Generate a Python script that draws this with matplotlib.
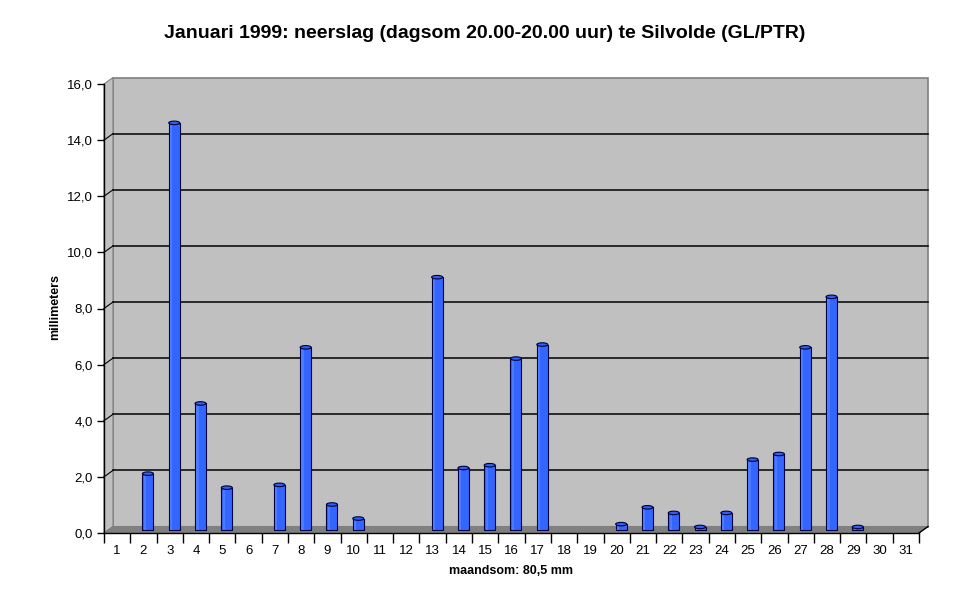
import matplotlib
matplotlib.use("Agg")
import matplotlib.pyplot as plt
from matplotlib.patches import Polygon, Rectangle, Ellipse

days = list(range(1, 32))
rain = [0, 2.0, 14.5, 4.5, 1.5, 0, 1.6, 6.5, 0.9, 0.4, 0, 0, 9.0, 2.2, 2.3, 6.1,
        6.6, 0, 0, 0.2, 0.8, 0.6, 0.1, 0.6, 2.5, 2.7, 6.5, 8.3, 0.1, 0, 0]
yticks = [0, 2, 4, 6, 8, 10, 12, 14, 16]
ytick_labels = ["0,0", "2,0", "4,0", "6,0", "8,0", "10,0", "12,0", "14,0", "16,0"]
title = "Januari 1999: neerslag (dagsom 20.00-20.00 uur) te Silvolde (GL/PTR)"
xlabel = "maandsom: 80,5 mm"
ylabel = "millimeters"

plt.rcParams['font.family'] = ['Liberation Sans', 'DejaVu Sans']

W, H = 970, 604
fig = plt.figure(figsize=(W / 100, H / 100), dpi=100)
x0, x1, yb, yt = 104, 919, 533, 84
ax = fig.add_axes([x0 / W, 1 - yb / H, (x1 - x0) / W, (yb - yt) / H])
xmin, xmax, ymin, ymax = 0.5, 31.5, 0, 16
ax.set_xlim(xmin, xmax)
ax.set_ylim(ymin, ymax)
for s in ax.spines.values():
    s.set_visible(False)
ax.patch.set_visible(False)

pxx = (x1 - x0) / (xmax - xmin)
pxy = (yb - yt) / (ymax - ymin)
dx = 9 / pxx
dy = 6.5 / pxy

# back wall
ax.add_patch(Rectangle((xmin + dx, dy), xmax - xmin, ymax, facecolor='#C0C0C0',
                       edgecolor='#808080', lw=1.2, clip_on=False, zorder=0))
# side wall
ax.add_patch(Polygon([(xmin, 0), (xmin + dx, dy), (xmin + dx, ymax + dy), (xmin, ymax)],
                     closed=True, facecolor='#C0C0C0', edgecolor='#808080', lw=0.8,
                     clip_on=False, zorder=0))
# floor
ax.add_patch(Polygon([(xmin, 0), (xmax, 0), (xmax + dx, dy), (xmin + dx, dy)],
                     closed=True, facecolor='#808080', edgecolor='#808080', lw=0.8,
                     clip_on=False, zorder=1))
# gridlines
for t in yticks[1:-1]:
    ax.plot([xmin + dx, xmax + dx], [t + dy, t + dy], color='black', lw=1.1,
            clip_on=False, zorder=1)
    ax.plot([xmin, xmin + dx], [t, t + dy], color='black', lw=0.8,
            clip_on=False, zorder=1)

# axes lines
ax.plot([xmin, xmin], [0, ymax], color='black', lw=1, clip_on=False, zorder=3)
ax.plot([xmin, xmax], [0, 0], color='black', lw=1, clip_on=False, zorder=3)
ax.plot([xmax, xmax + dx], [0, dy], color='black', lw=1, clip_on=False, zorder=3)

# bars (cylinders)
bw = 11 / pxx
eh = 3.5 / pxy
for d, v in zip(days, rain):
    if v <= 0:
        continue
    cx = d + dx / 2
    base = dy / 2
    ax.add_patch(Rectangle((cx - bw / 2, base), bw, v, facecolor='#3366FF',
                           edgecolor='#000040', lw=0.8, clip_on=False, zorder=4))
    ax.add_patch(Rectangle((cx - bw / 2 + bw * 0.12, base), bw * 0.2, v,
                           facecolor='#4D7BFF', edgecolor='none', clip_on=False, zorder=4))
    ax.add_patch(Ellipse((cx, base + v), bw, eh, facecolor='#3060F0',
                         edgecolor='#000040', lw=0.8, clip_on=False, zorder=5))

ax.set_yticks(yticks)
ax.set_yticklabels(ytick_labels, fontsize=9.5)
ax.set_xticks(days)
ax.set_xticklabels([str(d) for d in days], fontsize=9.5)
ax.set_xticks([d + 0.5 for d in range(0, 32)], minor=True)
ax.tick_params(axis='x', which='major', length=0, pad=9)
ax.tick_params(axis='x', which='minor', length=7, direction='out', width=1)
ax.tick_params(axis='y', which='major', length=5, direction='out', width=1, pad=3)

fig.text(485 / W, 1 - 33 / H, title, ha='center', va='center', fontsize=14,
         fontweight='bold')
fig.text(511 / W, 1 - 571 / H, xlabel, ha='center', va='center', fontsize=9,
         fontweight='bold')
fig.text(55 / W, 1 - 307 / H, ylabel, ha='center', va='center', fontsize=9,
         fontweight='bold', rotation=90)

fig.savefig('out.png', dpi=100)
